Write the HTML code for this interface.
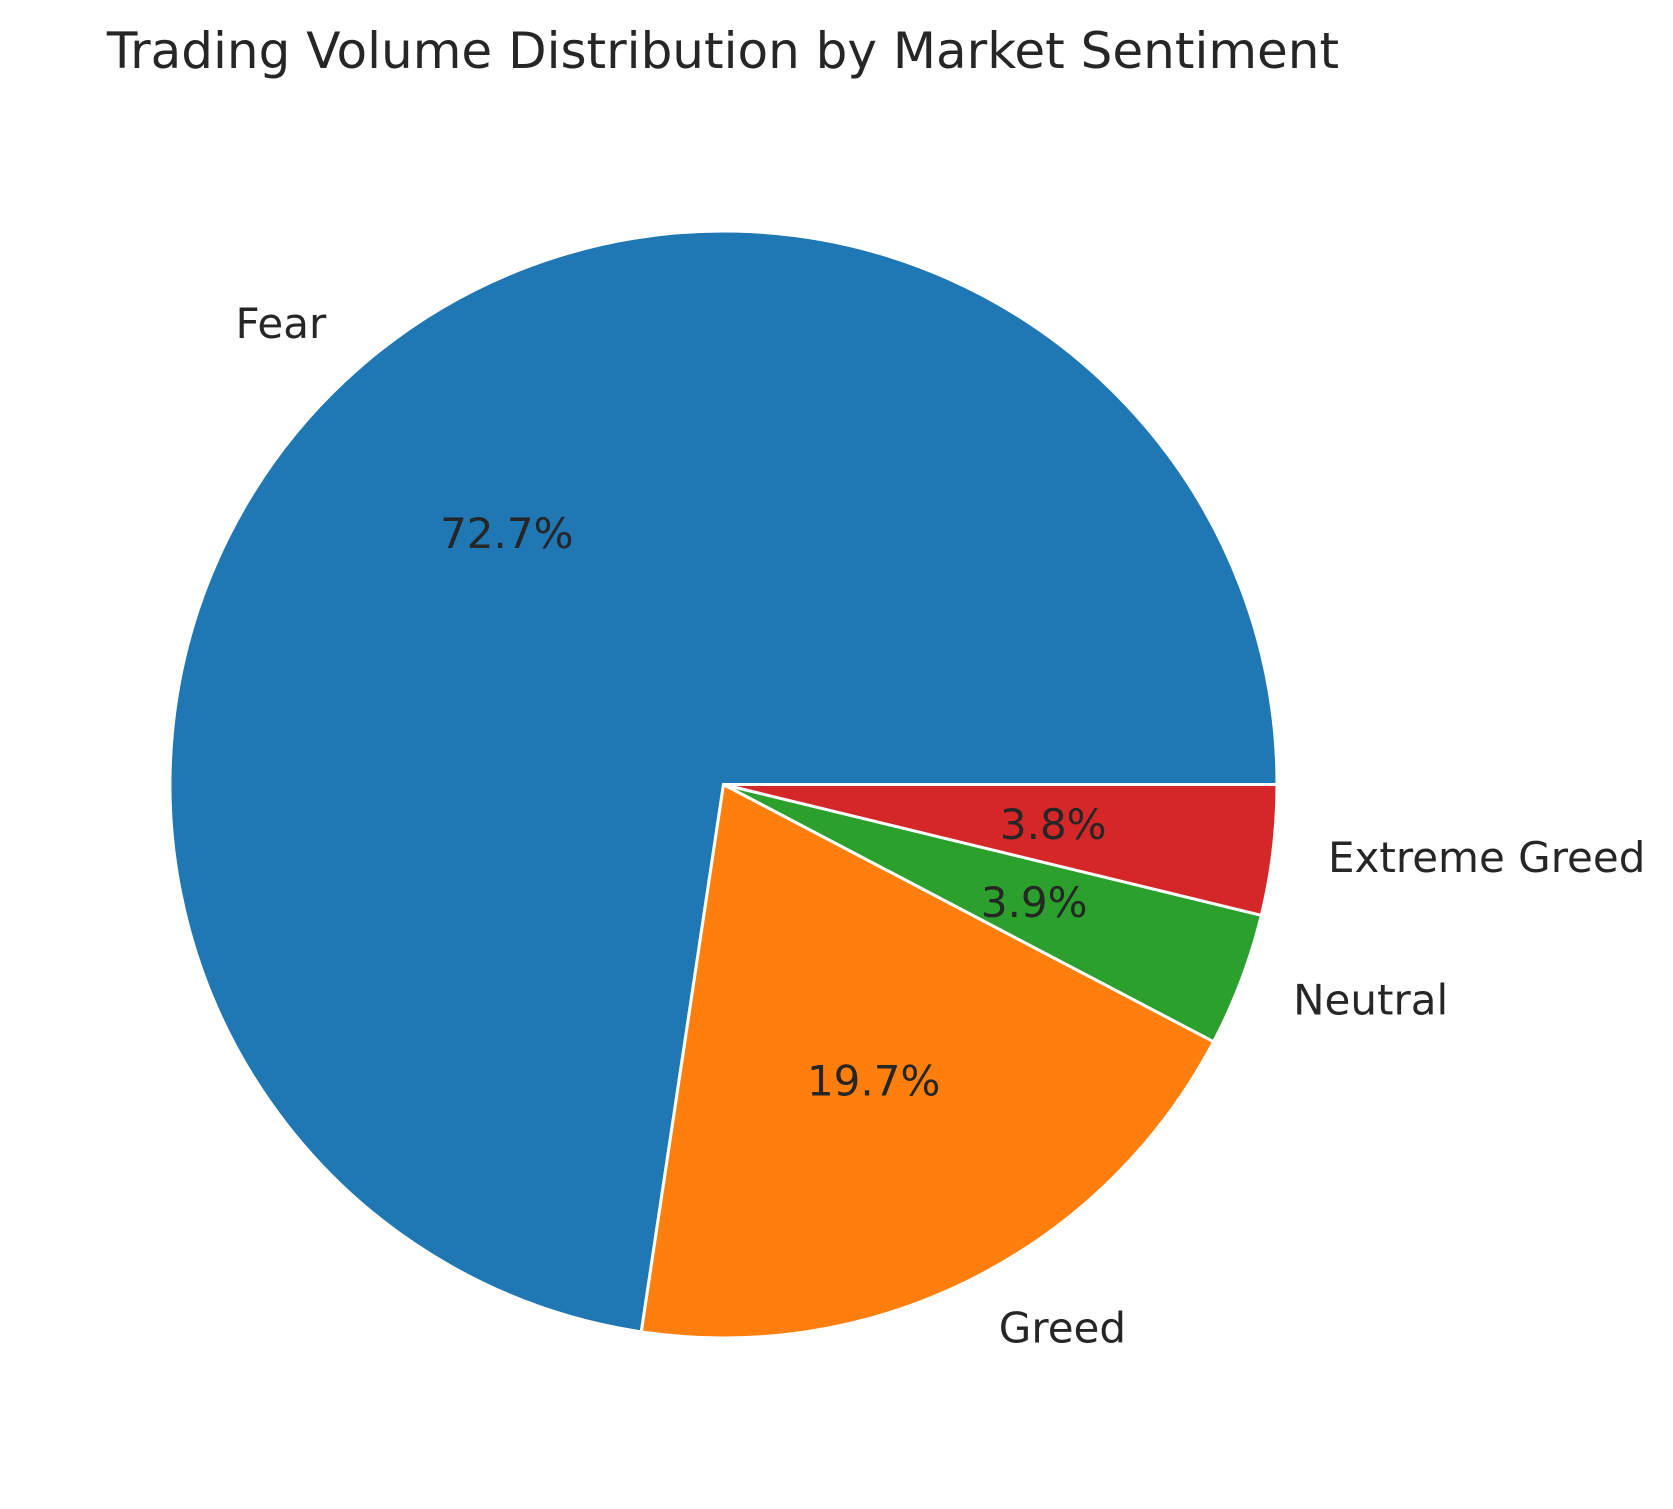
<!DOCTYPE html>
<html><head><meta charset="utf-8"><style>
html,body{margin:0;padding:0;background:#fff;}
svg{display:block;font-family:"DejaVu Sans","Liberation Sans",sans-serif;}
</style></head><body>
<svg id="chart" width="1673" height="1509" viewBox="0 0 1673 1509" xmlns="http://www.w3.org/2000/svg">
<rect width="1673" height="1509" fill="#fff"/>
<text x="723" y="68" text-anchor="middle" font-size="50" fill="#262626">Trading Volume Distribution by Market Sentiment</text>
<g id="slices"></g>
<g id="labels"></g>
</svg>
<script>
const categories = ["Fear", "Greed", "Neutral", "Extreme Greed"];
const values = [72.7, 19.7, 3.9, 3.8];
const pctLabels = ["72.7%", "19.7%", "3.9%", "3.8%"];
const colors = ["#1f77b4", "#ff7f0e", "#2ca02c", "#d62728"];

const cx = 723.5, cy = 784.5, R = 553.5;
const ns = "http://www.w3.org/2000/svg";
const total = values.reduce((a, b) => a + b, 0);
const gS = document.getElementById('slices');
const gL = document.getElementById('labels');
function pt(deg, r) { const a = deg * Math.PI / 180; return [cx + r * Math.cos(a), cy - r * Math.sin(a)]; }
let start = 0;
values.forEach((v, i) => {
  const sweep = v / total * 360;
  const end = start + sweep;
  const p1 = pt(start, R), p2 = pt(end, R);
  const large = sweep > 180 ? 1 : 0;
  const path = document.createElementNS(ns, 'path');
  path.setAttribute('d', `M${cx},${cy} L${p1[0]},${p1[1]} A${R},${R} 0 ${large} 0 ${p2[0]},${p2[1]} Z`);
  path.setAttribute('fill', colors[i]);
  path.setAttribute('stroke', '#fff');
  path.setAttribute('stroke-width', '3');
  path.setAttribute('stroke-linejoin', 'round');
  
  
  gS.appendChild(path);
  const mid = start + sweep / 2;
  const lp = pt(mid, R * 1.1);
  const lt = document.createElementNS(ns, 'text');
  lt.setAttribute('x', lp[0]);
  lt.setAttribute('y', lp[1] + 15);
  lt.setAttribute('font-size', '42');
  lt.setAttribute('fill', '#262626');
  lt.setAttribute('text-anchor', Math.cos(mid * Math.PI / 180) >= 0 ? 'start' : 'end');
  lt.textContent = categories[i];
  
  
  gL.appendChild(lt);
  const pp = pt(mid, R * 0.6);
  const pt2 = document.createElementNS(ns, 'text');
  pt2.setAttribute('x', pp[0]);
  pt2.setAttribute('y', pp[1] + 15);
  pt2.setAttribute('font-size', '42');
  pt2.setAttribute('fill', '#262626');
  pt2.setAttribute('text-anchor', 'middle');
  pt2.textContent = pctLabels[i];
  
  
  gL.appendChild(pt2);
  start = end;
});
</script>
</body></html>
